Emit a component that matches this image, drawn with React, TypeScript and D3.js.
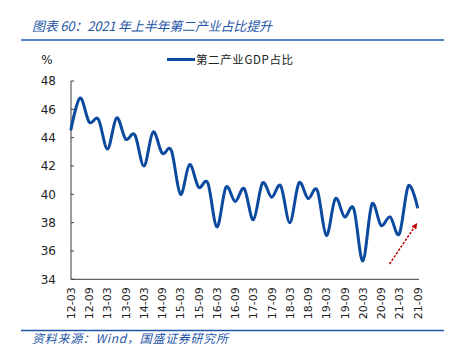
import React from 'react';
import * as d3 from 'd3';

// quarterly share of secondary industry in GDP, %
const quarters = [
  '12-03', '12-06', '12-09', '12-12',
  '13-03', '13-06', '13-09', '13-12',
  '14-03', '14-06', '14-09', '14-12',
  '15-03', '15-06', '15-09', '15-12',
  '16-03', '16-06', '16-09', '16-12',
  '17-03', '17-06', '17-09', '17-12',
  '18-03', '18-06', '18-09', '18-12',
  '19-03', '19-06', '19-09', '19-12',
  '20-03', '20-06', '20-09', '20-12',
  '21-03', '21-06', '21-09',
];
const shareValues = [
  44.6, 46.8, 45.1, 45.3,
  43.2, 45.4, 43.9, 44.2,
  42.0, 44.4, 42.9, 43.1,
  40.0, 42.1, 40.5, 40.8,
  37.7, 40.5, 39.5, 40.4,
  38.2, 40.8, 39.8, 40.6,
  38.0, 40.8, 39.7, 40.3,
  37.1, 39.7, 38.4, 39.0,
  35.3, 39.3, 37.8, 38.4,
  37.2, 40.6, 39.1,
];
const yTicks = [34, 36, 38, 40, 42, 44, 46, 48];
const xTickLabels = quarters.filter((_, i) => i % 2 === 0);

const title = '图表 60：2021 年上半年第二产业占比提升';
const source = '资料来源：Wind，国盛证券研究所';
const seriesName = '第二产业GDP占比';

const W = 453;
const H = 360;
const BLUE = '#0b4a9e';
const HEAD_BLUE = '#1f56a8';
const AXIS = '#3a3a3a';
const sans = 'DejaVu Sans, Verdana, sans-serif';
const cjk = '"Noto Sans CJK SC", sans-serif';

export default function App() {
  const x = d3.scalePoint<string>().domain(quarters).range([71, 417.5]);
  const y = d3.scaleLinear().domain([34, 48]).range([279.3, 81]);

  const line = d3
    .line<number>()
    .x((_, i) => x(quarters[i])!)
    .y((d) => y(d))
    .curve(d3.curveCardinal.tension(0));

  const x0 = x.range()[0];
  const x1 = x.range()[1];

  return (
    <svg
      width={W}
      height={H}
      style={{ position: 'absolute', left: 0, top: 0, background: '#fff' }}
    >
      <defs>
        <marker
          id="arrowHead"
          viewBox="0 0 10 10"
          refX="8"
          refY="5"
          markerWidth="4"
          markerHeight="4"
          orient="auto"
        >
          <path d="M0,0 L10,5 L0,10 z" fill="#c00000" />
        </marker>
      </defs>

      {/* header */}
      <text
        x={32}
        y={31}
        fontFamily={cjk}
        fontSize={13}
        fontStyle="italic"
        fill={HEAD_BLUE}
        textLength={240}
        lengthAdjust="spacing"
      >
        {title}
      </text>
      <line x1={21} x2={444} y1={40} y2={40} stroke={HEAD_BLUE} strokeWidth={1.5} />

      {/* legend */}
      <text x={47} y={64} fontFamily={sans} fontSize={12} fill="#222" textAnchor="middle">
        %
      </text>
      <line x1={167} x2={195} y1={59.5} y2={59.5} stroke={BLUE} strokeWidth={3} />
      <text
        x={196}
        y={64}
        fontFamily={cjk}
        fontSize={11.5}
        fill="#222"
        textLength={97}
        lengthAdjust="spacing"
      >
        {seriesName}
      </text>

      {/* y axis */}
      <line x1={x0} x2={x0} y1={y(48)} y2={y(34)} stroke={AXIS} strokeWidth={1} />
      {yTicks.map((t) => (
        <g key={t}>
          <line x1={x0} x2={x0 + 3} y1={y(t)} y2={y(t)} stroke={AXIS} />
          <text
            x={56}
            y={y(t)}
            dy="0.36em"
            textAnchor="end"
            fontFamily={sans}
            fontSize={12}
            fill="#222"
          >
            {t}
          </text>
        </g>
      ))}

      {/* x axis */}
      <line x1={x0} x2={x1 + 1.5} y1={y(34)} y2={y(34)} stroke={AXIS} strokeWidth={1} />
      {xTickLabels.map((q) => (
        <text
          key={q}
          transform={`translate(${x(q)! + 4},${y(34) + 8}) rotate(-90)`}
          textAnchor="end"
          fontFamily={sans}
          fontSize={11}
          fill="#222"
        >
          {q}
        </text>
      ))}

      {/* series */}
      <path
        d={line(shareValues) || ''}
        fill="none"
        stroke={BLUE}
        strokeWidth={3}
        strokeLinejoin="round"
        strokeLinecap="round"
      />

      {/* trend arrow */}
      <line
        x1={389.5}
        y1={264}
        x2={416.5}
        y2={224}
        stroke="#c00000"
        strokeWidth={1.5}
        strokeDasharray="2.5,1.5"
        markerEnd="url(#arrowHead)"
      />

      {/* footer */}
      <line x1={21} x2={444} y1={330.5} y2={330.5} stroke={HEAD_BLUE} strokeWidth={1.5} />
      <text
        x={32}
        y={343}
        fontFamily={cjk}
        fontSize={12}
        fontStyle="italic"
        fill={HEAD_BLUE}
        textLength={196}
        lengthAdjust="spacing"
      >
        {source}
      </text>
    </svg>
  );
}
